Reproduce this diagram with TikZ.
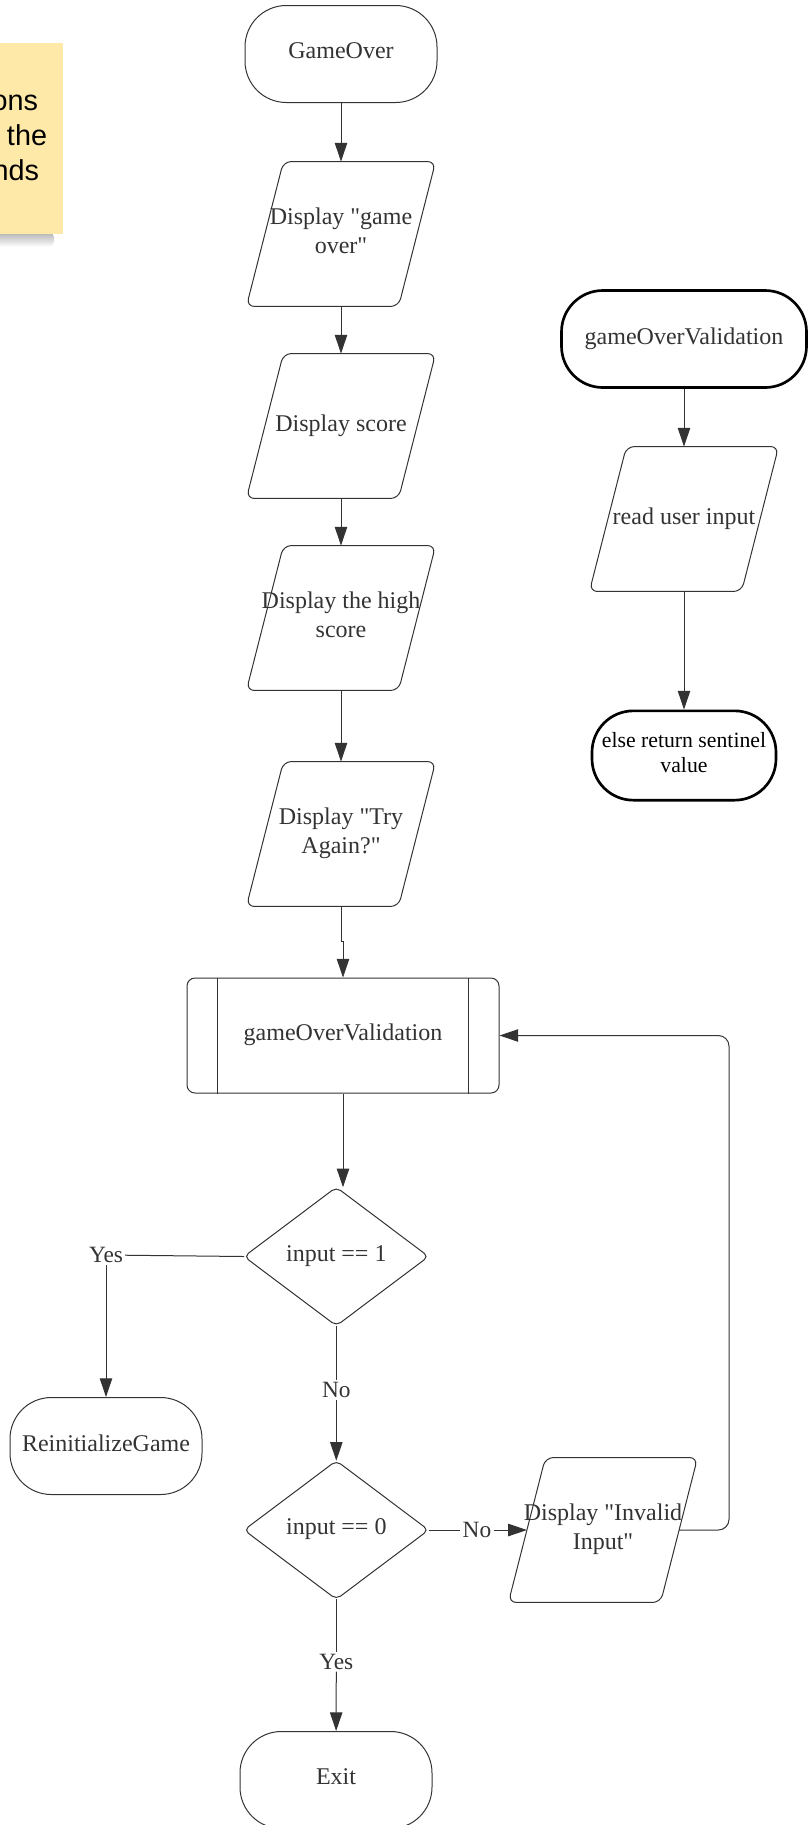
\documentclass[tikz,border=0pt]{standalone}
\usepackage{fontspec}
\setmainfont{Liberation Serif}
% separate family without TeX ligatures so that " stays a straight quote
\newfontfamily\chartfont{Liberation Serif}
\newfontfamily\notefont{Liberation Sans}
\usetikzlibrary{arrows.meta,calc,fadings}
\definecolor{ink}{HTML}{333333}
\definecolor{notefill}{HTML}{FFE9A8}

% parallelogram (input/output) drawn around an invisible rectangular node
\newcommand\iopath[1]{%
  \draw[line, rounded corners=6pt]
    ($(#1.north west)+(37,0)$) -- (#1.north east) --
    ($(#1.south east)+(-37,0)$) -- (#1.south west) -- cycle;}
% decision diamond drawn around an invisible rectangular node
\newcommand\decpath[1]{%
  \draw[line, rounded corners=4pt]
    (#1.north) -- (#1.east) -- (#1.south) -- (#1.west) -- cycle;}

\begin{document}
\begin{tikzpicture}[x=0.75pt,y=-0.75pt,
  every node/.style={font=\chartfont\fontsize{18}{21.75}\selectfont, text=ink,
    align=center, inner sep=0pt},
  boxtext/.style={text depth=4.6pt},
  line/.style={draw=ink, line width=0.75pt},
  flow/.style={line, -{Triangle[length=14pt,width=9.3pt]}},
  terminal/.style={boxtext, draw=ink, line width=0.75pt, rounded corners=31pt,
    minimum width=144pt, minimum height=72.75pt},
  boldterm/.style={terminal, draw=black, line width=2pt},
  iobox/.style={boxtext, minimum width=141.5pt, minimum height=108.3pt},
  decbox/.style={boxtext, minimum width=138pt, minimum height=103.5pt},
  subproc/.style={boxtext, draw=ink, line width=0.75pt, rounded corners=6pt,
    minimum width=234pt, minimum height=86.25pt},
  lbl/.style={font=\chartfont\fontsize{17.5}{21}\selectfont, inner sep=1.5pt},
  notetext/.style={font=\notefont\fontsize{21.6}{26}\selectfont,
    text=black, anchor=base east},
]
\useasboundingbox (0,0) rectangle (808,1825);

% sticky note at the left margin
\begin{scope}
  \clip (0,0) rectangle (808,1825);
  \fill[black, opacity=0.3, path fading=south, rounded corners=4pt]
    (-20,232) rectangle (54,247);
  \fill[notefill] (-80,43) rectangle (62.7,234);
  \node[notetext] (nA) at (38.3,110) {ons};
  \node[notetext] (nB) at (47.3,145) {the};
  \node[notetext] (nC) at (39.3,180) {nds};
\end{scope}

% main flow
\node[terminal] (start) at (341,54) {GameOver};
\node[iobox] (p1) at (341,234) {Display "game\\over"};
\iopath{p1}
\node[iobox] (p2) at (341,426) {Display score};
\iopath{p2}
\node[iobox] (p3) at (341,618) {Display the high\\score};
\iopath{p3}
\node[iobox] (p4) at (341,834) {Display "Try\\Again?"};
\iopath{p4}

\node[subproc] (pre) at (343,1035.5) {gameOverValidation};
\draw[line] ($(pre.north west)+(31,0)$) -- ($(pre.south west)+(31,0)$);
\draw[line] ($(pre.north east)+(-31,0)$) -- ($(pre.south east)+(-31,0)$);

\node[decbox] (d1) at (336.3,1256.5) {input == 1};
\decpath{d1}
\node[terminal] (reinit) at (106,1446) {ReinitializeGame};
\node[decbox] (d2) at (336.3,1530) {input == 0};
\decpath{d2}
\node[iobox] (inv) at (603,1530) {Display "Invalid\\Input"};
\iopath{inv}
\node[terminal] (exit) at (336,1780) {Exit};

% validation subroutine
\node[boldterm, minimum width=183.75pt] (sub) at (684,339) {gameOverValidation};
\node[iobox] (read) at (684,519) {read user input};
\iopath{read}
\node[boldterm, minimum width=138pt, minimum height=67pt,
  font=\chartfont\fontsize{16.3}{19}\selectfont, text=black] (sent) at (684,755.5)
  {else return sentinel\\value};

% connector labels
\node[lbl] (yes1) at (106,1255) {Yes};
\node[lbl] (no1) at (336.3,1390) {No};
\node[lbl] (no2) at (477,1530) {No};
\node[lbl] (yes2) at (336.3,1661.5) {Yes};

% connectors
\draw[flow] (start) -- (p1);
\draw[flow] (p1) -- (p2);
\draw[flow] (p2) -- (p3);
\draw[flow] (p3) -- (p4);
\coordinate (jog) at ($(p4.south)+(0,35)$);
\draw[flow] (p4.south) -- (jog) -- (jog -| pre.north) -- (pre.north);
\draw[flow] (pre.south) -- (pre.south |- d1.north);

\draw[line] (d1.west) -- (yes1);
\draw[flow] (yes1) -- (reinit);
\draw[line] (d1.south) -- (no1);
\draw[flow] (no1) -- (d2.north);

\coordinate (invL) at ($(inv.west)+(18.5,0)$);
\coordinate (invR) at ($(inv.east)+(-18.5,0)$);
\coordinate (loopR) at (729,1035.5);
\draw[line] (d2.east) -- (no2);
\draw[flow] (no2) -- (invL);
\draw[flow, rounded corners=8pt] (invR) -- (invR -| loopR) |- (pre.east);

\draw[line] (d2.south) -- (yes2);
\draw[flow] (yes2) -- (exit);

\draw[flow] (sub) -- (read);
\draw[flow] (read) -- (sent);
\end{tikzpicture}
\end{document}
